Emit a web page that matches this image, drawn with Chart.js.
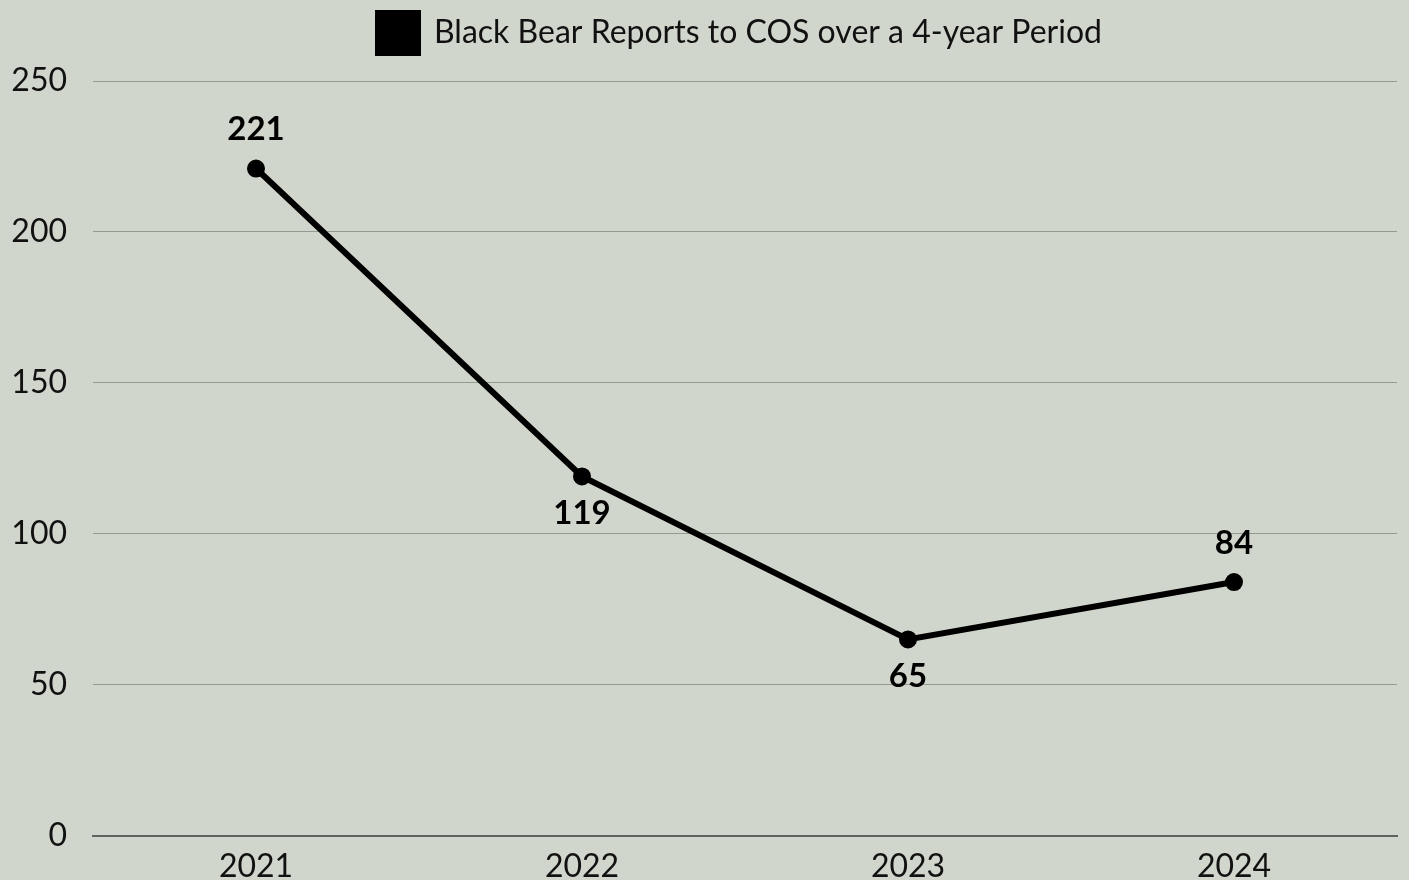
<!DOCTYPE html>
<html>
<head>
<meta charset="utf-8">
<script src="https://cdn.jsdelivr.net/npm/chart.js@4"></script>
<style>
  html, body { margin: 0; padding: 0; background: #d0d6cc; overflow: hidden; }
  #wrap { width: 1409px; height: 898px; }
</style>
</head>
<body>
<div id="wrap"><canvas id="bearChart"></canvas></div>
<script>
const years = ['2021', '2022', '2023', '2024'];
const reports = [221, 119, 65, 84];
const labelSide = ['above', 'below', 'below', 'above'];
const yTicks = [0, 50, 100, 150, 200, 250];

const FONT = 'Lato, "Open Sans", sans-serif';

// draws the value over/under each point
const valueLabels = {
  id: 'valueLabels',
  afterDatasetsDraw(chart) {
    const ctx = chart.ctx;
    const meta = chart.getDatasetMeta(0);
    ctx.save();
    ctx.font = 'bold 33px ' + FONT;
    ctx.fillStyle = '#000';
    ctx.textAlign = 'center';
    ctx.textBaseline = 'middle';
    meta.data.forEach((pt, i) => {
      const dy = labelSide[i] === 'above' ? -39 : 37;
      ctx.fillText(String(reports[i]), pt.x, pt.y + dy);
    });
    ctx.restore();
  }
};

// more room under the legend, and centre it over the plot area
const legendTweak = {
  id: 'legendTweak',
  beforeInit(chart) {
    const fit = chart.legend.fit;
    chart.legend.fit = function () {
      fit.bind(chart.legend)();
      this.height += 18;
    };
  },
  afterLayout(chart) {
    chart.legend.left += 66;
  }
};

new Chart(document.getElementById('bearChart').getContext('2d'), {
  type: 'line',
  data: {
    labels: years,
    datasets: [{
      label: 'Black Bear Reports to COS over a 4-year Period',
      data: reports,
      borderColor: '#000',
      backgroundColor: '#000',
      borderWidth: 6,
      pointRadius: 6,
      pointBackgroundColor: '#000',
      tension: 0,
      fill: false
    }]
  },
  options: {
    responsive: true,
    maintainAspectRatio: false,
    animation: false,
    layout: { padding: { left: 12, right: 7, top: 0 } },
    plugins: {
      legend: {
        display: true,
        labels: {
          boxWidth: 40,
          boxHeight: 40,
          color: '#111',
          padding: 13,
          font: { family: FONT, size: 32 }
        }
      },
      tooltip: { enabled: false }
    },
    scales: {
      x: {
        offset: true,
        grid: { display: false, drawTicks: false },
        border: { display: true, color: '#5f655d', width: 2 },
        ticks: { color: '#111', padding: 12, font: { family: FONT, size: 32 } }
      },
      y: {
        min: 0,
        max: 250,
        afterBuildTicks(axis) { axis.ticks = yTicks.map(v => ({ value: v })); },
        afterFit(axis) { axis.width = 81; },
        grid: { color: '#939b90', lineWidth: 1, drawTicks: false },
        border: { display: false },
        ticks: { color: '#111', padding: 26, font: { family: FONT, size: 32 } }
      }
    }
  },
  plugins: [valueLabels, legendTweak]
});
</script>
</body>
</html>
